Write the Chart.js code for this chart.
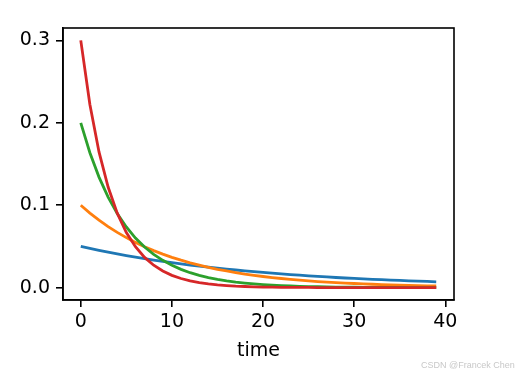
<!DOCTYPE html>
<html>
<head>
<meta charset="utf-8">
<script src="https://cdn.jsdelivr.net/npm/chart.js@4.4.0/dist/chart.umd.min.js"></script>
<style>
  html, body { margin: 0; padding: 0; background: #fff; overflow: hidden; }
  #wrap { position: relative; width: 518px; height: 378px; overflow: hidden; }
  #mark {
    position: absolute; left: 421px; top: 360px; white-space: nowrap;
    font-family: "Liberation Sans", Arial, sans-serif; font-size: 9px; color: #c8c8c8;
  }
</style>
</head>
<body>
<div id="wrap">
  <canvas id="chart" width="518" height="378"></canvas>
  <div id="mark">CSDN @Francek Chen</div>
</div>
<script>
// ── data ──────────────────────────────────────────────────────
const timeSteps = [0,1,2,3,4,5,6,7,8,9,10,11,12,13,14,15,16,17,18,19,
                   20,21,22,23,24,25,26,27,28,29,30,31,32,33,34,35,36,37,38,39];

const blueVals = [0.0500,0.0476,0.0452,0.0430,0.0409,0.0389,0.0370,0.0352,0.0335,0.0319,
                  0.0303,0.0288,0.0274,0.0261,0.0248,0.0236,0.0225,0.0214,0.0203,0.0193,
                  0.0184,0.0175,0.0166,0.0158,0.0151,0.0143,0.0136,0.0130,0.0123,0.0117,
                  0.0112,0.0106,0.0101,0.0096,0.0091,0.0087,0.0083,0.0079,0.0075,0.0071];

const orangeVals = [0.1000,0.0905,0.0819,0.0741,0.0670,0.0607,0.0549,0.0497,0.0449,0.0407,
                    0.0368,0.0333,0.0301,0.0273,0.0247,0.0223,0.0202,0.0183,0.0165,0.0150,
                    0.0135,0.0122,0.0111,0.0100,0.0091,0.0082,0.0074,0.0067,0.0061,0.0055,
                    0.0050,0.0045,0.0041,0.0037,0.0033,0.0030,0.0027,0.0025,0.0022,0.0020];

const greenVals = [0.2000,0.1637,0.1341,0.1098,0.0899,0.0736,0.0602,0.0493,0.0404,0.0331,
                   0.0271,0.0222,0.0181,0.0149,0.0122,0.0100,0.0082,0.0067,0.0055,0.0045,
                   0.0037,0.0030,0.0025,0.0020,0.0016,0.0013,0.0011,0.0009,0.0007,0.0006,
                   0.0005,0.0004,0.0003,0.0003,0.0002,0.0002,0.0001,0.0001,0.0001,0.0001];

const redVals = [0.3000,0.2222,0.1646,0.1220,0.0904,0.0669,0.0496,0.0367,0.0272,0.0202,
                 0.0149,0.0111,0.0082,0.0061,0.0045,0.0033,0.0025,0.0018,0.0014,0.0010,
                 0.0007,0.0005,0.0004,0.0003,0.0002,0.0002,0.0001,0.0001,0.0001,0.0001,
                 0.0000,0.0000,0.0000,0.0000,0.0000,0.0000,0.0000,0.0000,0.0000,0.0000];

const xTicks = [0, 10, 20, 30, 40];
const yTicks = [0.0, 0.1, 0.2, 0.3];
const xTitle = "time";

// ── helpers ───────────────────────────────────────────────────
const FONT = { family: "'DejaVu Sans', sans-serif", size: 19 };
const toPoints = (vals) => timeSteps.map((t, i) => ({ x: t, y: vals[i] }));
const line = (vals, color, order) => ({
  data: toPoints(vals), borderColor: color, backgroundColor: color,
  borderWidth: 2.8, pointRadius: 0, tension: 0, fill: false, order,
});

// full frame (matplotlib draws all four spines)
const frame = {
  id: "frame",
  afterDraw(chart) {
    const { ctx, chartArea: a } = chart;
    ctx.save();
    ctx.strokeStyle = "#000";
    ctx.lineWidth = 1.6;
    ctx.strokeRect(a.left, a.top, a.right - a.left, a.bottom - a.top);
    ctx.restore();
  },
};

new Chart(document.getElementById("chart"), {
  type: "line",
  data: {
    datasets: [
      line(blueVals,   "#1f77b4", 3),
      line(orangeVals, "#ff7f0e", 2),
      line(greenVals,  "#2ca02c", 1),
      line(redVals,    "#d62728", 0),
    ],
  },
  options: {
    responsive: false,
    animation: false,
    layout: { padding: { top: 28, right: 64, left: 0, bottom: 0 } },
    plugins: { legend: { display: false }, tooltip: { enabled: false } },
    scales: {
      x: {
        type: "linear", min: -1.95, max: 40.95,
        afterBuildTicks: (s) => { s.ticks = xTicks.map((v) => ({ value: v })); },
        afterFit: (s) => { s.height = 78; },
        grid: { display: true, drawOnChartArea: false, drawTicks: true, tickLength: 7, color: "#000", lineWidth: 1.6 },
        border: { display: true, color: "#000", width: 1.6 },
        ticks: { color: "#000", font: FONT, padding: 4, maxRotation: 0, callback: (v) => String(v) },
        title: { display: true, text: xTitle, color: "#000", font: FONT, padding: { top: 2, bottom: 16 } },
      },
      y: {
        type: "linear", min: -0.015, max: 0.315,
        afterBuildTicks: (s) => { s.ticks = yTicks.map((v) => ({ value: v })); },
        afterFit: (s) => { s.width = 63; },
        grid: { display: true, drawOnChartArea: false, drawTicks: true, tickLength: 7, color: "#000", lineWidth: 1.6 },
        border: { display: true, color: "#000", width: 1.6 },
        ticks: { color: "#000", font: FONT, padding: 6, callback: (v) => v.toFixed(1) },
      },
    },
  },
  plugins: [frame],
});
</script>
</body>
</html>
